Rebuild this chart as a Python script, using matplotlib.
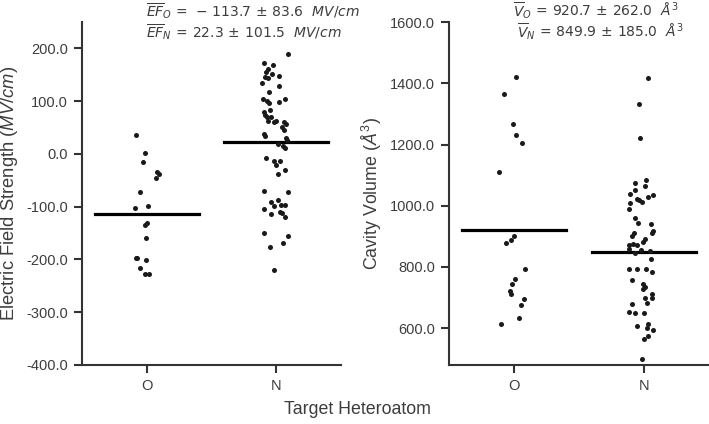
import numpy as np
import matplotlib.pyplot as plt

groups = ['O', 'N']

# electric field strength (MV/cm)
ef_O = [36, 2.5, -15, -33.5, -38, -45, -73, -102.5, -99, -131.5, -135, -159,
        -197, -197, -201, -217, -228, -228]
ef_O_jit = [-0.08, -0.01, -0.03, 0.08, 0.095, 0.075, -0.054, -0.092, 0.008, 0,
            -0.013, -0.002, -0.085, -0.072, -0.008, -0.054, -0.013, 0.018]
ef_N = [190, 172, 168, 160.7, 156, 151, 148.6, 146, 143, 134.7, 128, 117, 104,
        100.6, 103.8, 96.8, 98, 80.3, 83.5, 74, 69.6, 69.6, 62, 61.3, 62.6, 61.3,
        56.3, 50.6, 45.5, 37.4, 34, 29.7, 26, 18.4, 15.2, 12, -7.6, -12.7, -13.9,
        -21.5, -30.4, -37.4, -69.6, -71.5, -88, -90.5, -103.8, -98.7, -96.8,
        -96.2, -113.9, -110.6, -112.5, -119, -150.5, -155.6, -177, -168.3, -220.7]
ef_N_jit = [0.087, -0.092, -0.028, -0.067, -0.079, -0.033, 0.023, -0.087, -0.067,
            -0.108, 0.018, -0.059, -0.105, -0.069, 0.064, -0.054, 0.018, -0.098,
            -0.048, -0.09, -0.075, -0.038, -0.062, -0.021, -0.002, 0.062, 0.075,
            0.041, 0.056, -0.095, -0.085, 0.075, 0.082, 0.01, 0.054, 0.069, -0.079,
            -0.021, 0.028, -0.002, 0.069, 0.01, -0.092, 0.087, 0.01, -0.044, -0.092,
            -0.015, 0.036, 0.064, -0.038, 0.031, 0.044, 0.069, -0.092, 0.087,
            -0.052, 0.054, -0.021]

# cavity volume (A^3)
vol_O = [1420.7, 1366, 1266.6, 1231.8, 1205.6, 1109, 902.6, 887.5, 877.7, 792.5,
         759.7, 744, 720.3, 710.5, 694, 674.4, 632.8, 614]
vol_O_jit = [0.018, -0.075, -0.008, 0.013, 0.062, -0.113, -0.002, -0.023, -0.062,
             0.085, 0.01, -0.018, -0.028, -0.021, 0.075, 0.054, 0.038, -0.098]
vol_N = [1416.4, 1333.4, 1219.7, 1074.4, 1083, 1064.6, 1038.4, 1050, 1033.8,
         1027.2, 1022, 1017.4, 1012, 1009.8, 990, 959.7, 945, 941, 919, 912.5,
         910.5, 901.6, 890.8, 883, 872, 874.4, 872, 858, 847, 855.7, 852.5, 825,
         792.5, 792.5, 792.5, 783.6, 757.4, 744.3, 733.4, 726.9, 711.5, 699.3,
         697.4, 681, 677.7, 653.4, 648.2, 648.2, 606.6, 613, 602.3, 595.7, 574.8,
         565, 499.3]
vol_N_jit = [0.028, -0.036, -0.028, -0.067, 0.013, 0.01, -0.105, -0.067, 0.072,
             0.028, -0.056, -0.036, -0.013, -0.108, -0.115, -0.069, -0.048, 0.054,
             0.072, 0.059, -0.075, -0.09, 0.008, -0.01, -0.113, -0.082, -0.052,
             -0.113, -0.067, -0.025, 0.046, 0.052, -0.113, -0.052, 0.013, 0.064,
             -0.09, -0.01, 0.008, -0.005, 0.059, 0.064, 0.01, 0.025, -0.09, -0.113,
             -0.067, -0.002, -0.052, 0.033, 0.025, 0.072, 0.033, -0.002, -0.013]

ef_means = [-113.7, 22.3]
ef_stds = [83.6, 101.5]
vol_means = [920.7, 849.9]
vol_stds = [262.0, 185.0]

plt.rcParams['font.family'] = ['Liberation Sans', 'DejaVu Sans']
plt.rcParams['mathtext.fontset'] = 'dejavusans'
plt.rcParams['mathtext.it'] = 'Liberation Sans:italic'
plt.rcParams['mathtext.rm'] = 'Liberation Sans'

fig = plt.figure(figsize=(7.09, 4.24), dpi=100)
ax1 = fig.add_axes([82/709, 59/424, 259/709, 343/424])
ax2 = fig.add_axes([449/709, 59/424, 260/709, 343/424])

dot = '#1a1a1a'
spine_c = '#333333'
txt_c = '#3d3d3d'

def draw(ax, vals, jits, means):
    for i in range(2):
        ax.scatter(np.array(jits[i]) + i, vals[i], s=13, color=dot, linewidths=0, zorder=3)
        ax.plot([i - 0.4, i + 0.4], [means[i], means[i]], color='black', lw=2.3, zorder=2)
    ax.set_xlim(-0.5, 1.5)
    ax.set_xticks([0, 1])
    ax.set_xticklabels(groups)
    for s in ['top', 'right']:
        ax.spines[s].set_visible(False)
    for s in ['left', 'bottom']:
        ax.spines[s].set_color(spine_c)
        ax.spines[s].set_linewidth(1.5)
    ax.tick_params(length=6, width=1.5, color=spine_c, labelcolor=txt_c, labelsize=10.5, pad=4)

draw(ax1, [ef_O, ef_N], [ef_O_jit, ef_N_jit], ef_means)
ax1.set_ylim(-400, 250)
ax1.set_yticks(np.arange(-400, 201, 100))
ax1.set_yticklabels(['%.1f' % v for v in np.arange(-400, 201, 100)])

draw(ax2, [vol_O, vol_N], [vol_O_jit, vol_N_jit], vol_means)
ax2.set_ylim(480, 1600)
ax2.set_yticks(np.arange(600, 1601, 200))
ax2.set_yticklabels(['%.1f' % v for v in np.arange(600, 1601, 200)])

lab1 = ax1.set_ylabel(r'Electric Field Strength ($MV/cm$)', fontsize=13.2, color=txt_c)
lab1.set_math_fontfamily('custom')
ax1.yaxis.set_label_coords(-0.24, 0.5)
lab2 = ax2.set_ylabel(r'Cavity Volume ($\AA^3$)', fontsize=12.8, color=txt_c)
lab2.set_math_fontfamily('custom')
ax2.yaxis.set_label_coords(-0.25, 0.5)

fig.text(357/709, 14/424, 'Target Heteroatom', fontsize=12.8, color=txt_c, ha='center', va='center')

# mean +/- std annotations
fig.text(146/709, 1 - 11/424,
         r'$\overline{EF}_O\, =\, -\,%.1f\, \pm\, %.1f\ \ MV/cm$' % (-ef_means[0], ef_stds[0]),
         fontsize=10, color=txt_c, ha='left', va='center')
fig.text(146/709, 1 - 32/424,
         r'$\overline{EF}_N\, =\, %.1f\, \pm\, %.1f\ \ MV/cm$' % (ef_means[1], ef_stds[1]),
         fontsize=10, color=txt_c, ha='left', va='center')
fig.text(596/709, 1 - 11/424,
         r'$\overline{V}_O\, =\, %.1f\, \pm\, %.1f\ \ \AA^3$' % (vol_means[0], vol_stds[0]),
         fontsize=10, color=txt_c, ha='center', va='center')
fig.text(601/709, 1 - 32/424,
         r'$\overline{V}_N\, =\, %.1f\, \pm\, %.1f\ \ \AA^3$' % (vol_means[1], vol_stds[1]),
         fontsize=10, color=txt_c, ha='center', va='center')

fig.savefig('out.png', dpi=100)
print('done!')
